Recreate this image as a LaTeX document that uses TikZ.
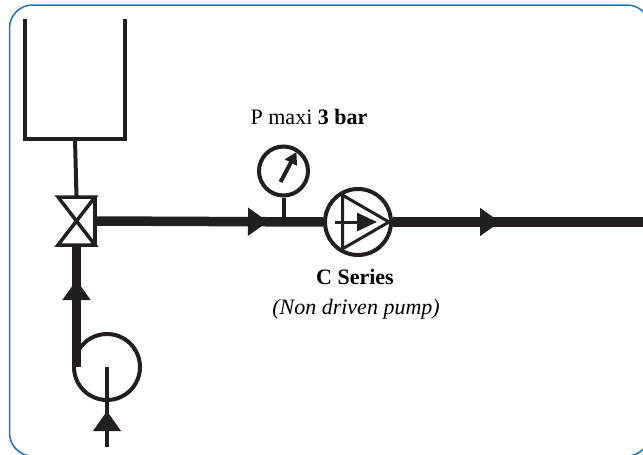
\documentclass[tikz,border=0pt]{standalone}
\usepackage{fontspec}
\setmainfont{Liberation Serif}
\usetikzlibrary{arrows.meta, positioning, calc, decorations.markings}
\definecolor{ink}{RGB}{35,31,32}
\definecolor{frameblue}{RGB}{30,117,187}
\tikzset{
  pipe/.style={line width=9.5pt, color=ink},
  line/.style={line width=4pt, color=ink},
  ring/.style={circle, draw=ink, line width=4pt, minimum size=66pt, inner sep=0pt},
  flow/.style={postaction={decorate}, decoration={markings,
               mark=at position #1 with {\arrow{Triangle[length=20pt, width=27pt]}}}},
  lbl/.style={font=\fontsize{22}{26}\selectfont, inner sep=0pt, anchor=base},
}

\begin{document}
\begin{tikzpicture}[x=1pt, y=-1pt]
        \useasboundingbox (0,0) rectangle (643,455);
        \clip (0,0) rectangle (643,455);
        \draw[frameblue, line width=1.5pt, rounded corners=23pt] (9.5,5) rectangle (650,456);
        % tank, valve and pumps
        \node[minimum width=100pt, minimum height=120pt, outer sep=0pt] (tank) at (75,79) {};
        \node[minimum width=37pt, minimum height=48pt, outer sep=0pt, inner sep=0pt] (valve) at (76.5,221) {};
        \node[ring] (pump) at (358,222) {};
        \node[ring, minimum size=49pt] (gauge) at (283.5,171) {};
        \node[ring] (booster) at (107,367) {};
        \coordinate (outlet) at (643,222);
        \coordinate (inlet) at (107,447);
        \draw[line width=4.5pt, color=ink] (tank.north west) -- (tank.south west) -- (tank.south east) -- (tank.north east);
        \draw[line] (tank.south) -- (valve.north);
        \draw[line width=3.5pt, color=ink] (valve.north west) -- (valve.north east) -- (valve.south west) -- (valve.south east) -- cycle;
        \draw[line width=3.5pt, color=ink] (valve.north east) -- (valve.south east);
        % pipes
        \draw[pipe, flow=173pt] (valve.east) -- (pump.west);
        \draw[pipe, flow=107pt] (pump.east) -- (outlet);
        \draw[pipe, flow=87pt] ($(booster.west)+(4.5,0)$) -- (valve.south);
        \draw[line, flow=36pt] (inlet) -- (booster.center);
        % gauge
        \draw[line] (gauge.south) -- (gauge.south |- pump.west);
        \draw[line, -{Triangle[length=12pt, width=13pt]}] ($(gauge.center)+(-3,11)$) -- ($(gauge.center)+(13,-19)$);
        % pump symbol
        \draw[line width=3pt, color=ink] ($(pump.center)+(0:31)$) -- ($(pump.center)+(120:31)$) -- ($(pump.center)+(240:31)$) -- cycle;
        \draw[line width=3pt, color=ink, -{Triangle[length=20pt, width=18pt]}] ($(pump.center)+(-23,0)$) -- ($(pump.center)+(19,0)$);
        % labels
        \node[lbl] (pmax) at (309,124) {P maxi \textbf{3 bar}};
        \node[lbl] (series) at (355,284) {\textbf{C Series}};
        \node[lbl] (driven) at (356,314) {\textit{(Non driven pump)}};
      \end{tikzpicture}
\end{document}
